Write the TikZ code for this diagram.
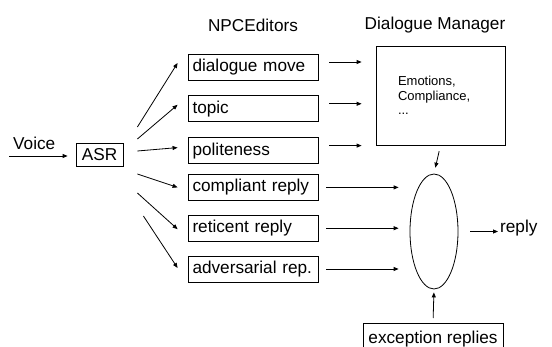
\documentclass[tikz,border=0pt]{standalone}
\usepackage{fontspec}
\setmainfont{Liberation Sans}
\usetikzlibrary{positioning, shapes.geometric, arrows.meta, calc}

\begin{document}
\begin{tikzpicture}[
   x=1pt, y=-1pt,
   every node/.style       = {font=\fontsize{17.2}{21}\selectfont},
    node distance          = 15pt,
         editorBox/.style  = {rectangle, draw, line width=0.8pt, align=left, text width=121pt,
                              inner xsep=4.5pt, inner ysep=0pt, minimum height=26pt},
         managerBox/.style = {rectangle, draw, line width=0.8pt, align=left, text width=85pt,
                              inner xsep=22pt, minimum height=99pt},
         asrBox/.style     = {rectangle, draw, line width=0.8pt, minimum width=47pt, minimum height=23pt, inner sep=0pt},
         selectNode/.style = {ellipse, draw, line width=0.8pt, minimum width=48pt, minimum height=115pt, inner sep=0pt},
         myarrow/.style    = {-{Triangle[length=5pt,width=4pt]}, line width=0.8pt}
]
    \useasboundingbox (0,0) rectangle (552,347);

    % input side
    \coordinate (voicein) at (9,156);
    \node[anchor=south west, inner sep=0pt] (voice) at (13,150) {Voice};
    \node[asrBox] (asr) at (99.5,155) {ASR};
    \draw[myarrow, shorten >=8pt] (voicein) -- (voicein -| asr.west);

    % NPCEditors column
    \node[editorBox] (dmove) at (253,67) {dialogue move};
    \node[editorBox, below=of dmove] (topic) {topic};
    \node[editorBox, below=of topic] (polite) {politeness};
    \node[editorBox, below=10pt of polite] (compliant) {compliant reply};
    \node[editorBox, below=14pt of compliant] (reticent) {reticent reply};
    \node[editorBox, below=14pt of reticent] (adversarial) {adversarial rep.};
    \node (npc) at (253,25) {NPCEditors};

    \draw[myarrow] ([xshift=14pt,yshift=28pt]asr.east)  -- ([xshift=-10pt,yshift=4pt]dmove.west);
    \draw[myarrow] ([xshift=14pt,yshift=16pt]asr.east)  -- ([xshift=-10pt,yshift=4pt]topic.west);
    \draw[myarrow] ([xshift=14pt,yshift=4pt]asr.east)   -- ([xshift=-10pt,yshift=3pt]polite.west);
    \draw[myarrow] ([xshift=14pt,yshift=-19pt]asr.east) -- ([xshift=-10pt,yshift=0pt]compliant.west);
    \draw[myarrow] ([xshift=14pt,yshift=-38pt]asr.east) -- ([xshift=-10pt,yshift=-1pt]reticent.west);
    \draw[myarrow] ([xshift=20pt,yshift=-61pt]asr.east) -- ([xshift=-10pt,yshift=1pt]adversarial.west);

    % Dialogue Manager
    \node[managerBox, font=\fontsize{13}{14.5}\selectfont] (dm) at (440.5,95.5) {Emotions,\\Compliance,\\...};
    \node (dmlabel) at (435,25) {Dialogue Manager};

    \draw[myarrow, shorten <=11pt, shorten >=14pt] ([yshift=5pt]dmove.east)  -- ([yshift=5pt]dmove.east -| dm.west);
    \draw[myarrow, shorten <=11pt, shorten >=14pt] ([yshift=5pt]topic.east)  -- ([yshift=5pt]topic.east -| dm.west);
    \draw[myarrow, shorten <=11pt, shorten >=14pt] ([yshift=5pt]polite.east) -- ([yshift=5pt]polite.east -| dm.west);

    % reply selection
    \node[selectNode] (select) at (434,231.5) {};
    \node[anchor=west, inner sep=0pt] (reply) at (500,228) {reply};
    \node[rectangle, draw, line width=0.8pt, minimum width=140pt, minimum height=32pt, inner sep=0pt,
          text depth=5pt, anchor=north] (exception) at (433,323) {exception replies};

    \draw[myarrow, shorten <=6pt, shorten >=6pt] (dm.south) -- (select.north);
    \draw[myarrow, shorten <=8pt, shorten >=11pt] (compliant.east)   -- (compliant.east -| select.west);
    \draw[myarrow, shorten <=8pt, shorten >=11pt] (reticent.east)    -- (reticent.east -| select.west);
    \draw[myarrow, shorten <=8pt, shorten >=11pt] (adversarial.east) -- (adversarial.east -| select.west);
    \draw[myarrow, shorten <=12pt, shorten >=2pt] (select.east) -- (select.east -| reply.west);
    \draw[myarrow, shorten <=5pt, shorten >=3pt] (exception.north) -- (select.south);
\end{tikzpicture}
\end{document}
